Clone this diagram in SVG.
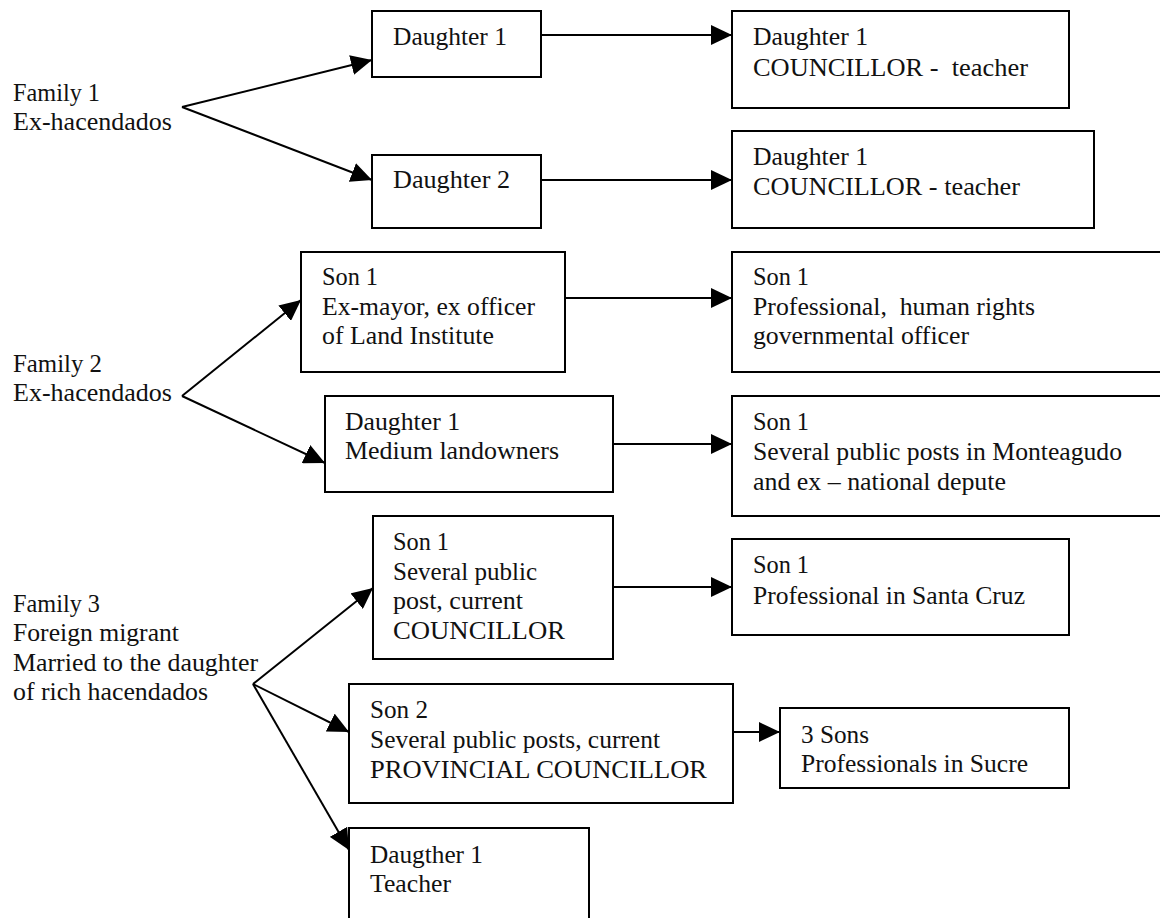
<svg xmlns="http://www.w3.org/2000/svg" width="1160" height="918" viewBox="0 0 1160 918">
  <defs>
    <marker id="arrow" markerUnits="userSpaceOnUse" markerWidth="22" markerHeight="20" refX="21" refY="10" orient="auto">
      <path d="M0,0 L21,10 L0,20 Z" fill="#000"/>
    </marker>
    <style>
      .box { fill: #fff; stroke: #000; stroke-width: 2; }
      .edge { fill: none; stroke: #000; stroke-width: 2; marker-end: url(#arrow); }
      text { font-family: 'Liberation Serif', 'DejaVu Serif', serif; font-size: 25px; fill: #111; }
    </style>
  </defs>
  <rect width="1160" height="918" fill="#fff"/>

  <!-- connectors -->
  <g id="connectors">
    <line class="edge" x1="182" y1="107" x2="372" y2="60"/>
    <line class="edge" x1="182" y1="107" x2="372" y2="180"/>
    <line class="edge" x1="541" y1="35" x2="732" y2="35"/>
    <line class="edge" x1="541" y1="180" x2="732" y2="180"/>
    <line class="edge" x1="182" y1="396" x2="301" y2="300"/>
    <line class="edge" x1="182" y1="396" x2="325" y2="463"/>
    <line class="edge" x1="565" y1="298" x2="732" y2="298"/>
    <line class="edge" x1="613" y1="444" x2="732" y2="444"/>
    <line class="edge" x1="253" y1="684" x2="373" y2="588"/>
    <line class="edge" x1="253" y1="684" x2="349" y2="732"/>
    <line class="edge" x1="253" y1="684" x2="349" y2="850"/>
    <line class="edge" x1="613" y1="587" x2="732" y2="587"/>
    <line class="edge" x1="733" y1="732" x2="780" y2="732"/>
  </g>

  <g font-family="'Liberation Serif', 'DejaVu Serif', serif" font-size="25" lengthAdjust="spacingAndGlyphs">
  <!-- family labels -->
  <g id="family1">
    <text x="13" y="101" textLength="87" lengthAdjust="spacingAndGlyphs">Family 1</text>
    <text x="13" y="130" textLength="159" lengthAdjust="spacingAndGlyphs">Ex-hacendados</text>
  </g>
  <g id="family2">
    <text x="13" y="372" textLength="89" lengthAdjust="spacingAndGlyphs">Family 2</text>
    <text x="13" y="401" textLength="159" lengthAdjust="spacingAndGlyphs">Ex-hacendados</text>
  </g>
  <g id="family3">
    <text x="13" y="612" textLength="87" lengthAdjust="spacingAndGlyphs">Family 3</text>
    <text x="13" y="641" textLength="166" lengthAdjust="spacingAndGlyphs">Foreign migrant</text>
    <text x="13" y="671" textLength="245" lengthAdjust="spacingAndGlyphs">Married to the daughter</text>
    <text x="13" y="700" textLength="195" lengthAdjust="spacingAndGlyphs">of rich hacendados</text>
  </g>

  <!-- family 1 descendants -->
  <g id="f1-daughter1">
    <rect class="box" x="372" y="11" width="169" height="66"/>
    <text x="393" y="45" textLength="114" lengthAdjust="spacingAndGlyphs">Daughter 1</text>
  </g>
  <g id="f1-daughter2">
    <rect class="box" x="372" y="155" width="169" height="73"/>
    <text x="393" y="188" textLength="117" lengthAdjust="spacingAndGlyphs">Daughter 2</text>
  </g>
  <g id="f1-grandchild1">
    <rect class="box" x="732" y="11" width="337" height="97"/>
    <text x="753" y="45" textLength="115" lengthAdjust="spacingAndGlyphs">Daughter 1</text>
    <text x="753" y="76" textLength="275" lengthAdjust="spacingAndGlyphs" xml:space="preserve">COUNCILLOR -  teacher</text>
  </g>
  <g id="f1-grandchild2">
    <rect class="box" x="732" y="131" width="362" height="97"/>
    <text x="753" y="165" textLength="115" lengthAdjust="spacingAndGlyphs">Daughter 1</text>
    <text x="753" y="195" textLength="267" lengthAdjust="spacingAndGlyphs">COUNCILLOR - teacher</text>
  </g>

  <!-- family 2 descendants -->
  <g id="f2-son1">
    <rect class="box" x="301" y="252" width="264" height="120"/>
    <text x="322" y="285" textLength="56" lengthAdjust="spacingAndGlyphs">Son 1</text>
    <text x="322" y="315" textLength="213" lengthAdjust="spacingAndGlyphs">Ex-mayor, ex officer</text>
    <text x="322" y="344" textLength="172" lengthAdjust="spacingAndGlyphs">of Land Institute</text>
  </g>
  <g id="f2-daughter1">
    <rect class="box" x="325" y="396" width="288" height="96"/>
    <text x="345" y="430" textLength="115" lengthAdjust="spacingAndGlyphs">Daughter 1</text>
    <text x="345" y="459" textLength="214" lengthAdjust="spacingAndGlyphs">Medium landowners</text>
  </g>
  <g id="f2-grandchild1">
    <rect class="box" x="732" y="252" width="440" height="120"/>
    <text x="753" y="285" textLength="56" lengthAdjust="spacingAndGlyphs">Son 1</text>
    <text x="753" y="315" textLength="282" lengthAdjust="spacingAndGlyphs" xml:space="preserve">Professional,  human rights</text>
    <text x="753" y="344" textLength="216" lengthAdjust="spacingAndGlyphs">governmental officer</text>
  </g>
  <g id="f2-grandchild2">
    <rect class="box" x="732" y="396" width="440" height="120"/>
    <text x="753" y="430" textLength="56" lengthAdjust="spacingAndGlyphs">Son 1</text>
    <text x="753" y="460" textLength="369" lengthAdjust="spacingAndGlyphs">Several public posts in Monteagudo</text>
    <text x="753" y="490" textLength="253" lengthAdjust="spacingAndGlyphs">and ex – national depute</text>
  </g>

  <!-- family 3 descendants -->
  <g id="f3-son1">
    <rect class="box" x="373" y="516" width="240" height="143"/>
    <text x="393" y="550" textLength="56" lengthAdjust="spacingAndGlyphs">Son 1</text>
    <text x="393" y="580" textLength="144" lengthAdjust="spacingAndGlyphs">Several public</text>
    <text x="393" y="609" textLength="130" lengthAdjust="spacingAndGlyphs">post, current</text>
    <text x="393" y="639" textLength="172" lengthAdjust="spacingAndGlyphs">COUNCILLOR</text>
  </g>
  <g id="f3-son2">
    <rect class="box" x="349" y="684" width="384" height="119"/>
    <text x="370" y="718" textLength="58" lengthAdjust="spacingAndGlyphs">Son 2</text>
    <text x="370" y="748" textLength="290" lengthAdjust="spacingAndGlyphs">Several public posts, current</text>
    <text x="370" y="778" textLength="337" lengthAdjust="spacingAndGlyphs">PROVINCIAL COUNCILLOR</text>
  </g>
  <g id="f3-daughter1">
    <rect class="box" x="349" y="828" width="240" height="100"/>
    <text x="370" y="863" textLength="113" lengthAdjust="spacingAndGlyphs">Daugther 1</text>
    <text x="370" y="892" textLength="81" lengthAdjust="spacingAndGlyphs">Teacher</text>
  </g>
  <g id="f3-grandchild1">
    <rect class="box" x="732" y="539" width="337" height="96"/>
    <text x="753" y="573" textLength="56" lengthAdjust="spacingAndGlyphs">Son 1</text>
    <text x="753" y="604" textLength="272" lengthAdjust="spacingAndGlyphs">Professional in Santa Cruz</text>
  </g>
  <g id="f3-grandchild2">
    <rect class="box" x="780" y="708" width="289" height="80"/>
    <text x="801" y="743" textLength="68" lengthAdjust="spacingAndGlyphs">3 Sons</text>
    <text x="801" y="772" textLength="227" lengthAdjust="spacingAndGlyphs">Professionals in Sucre</text>
  </g>
  </g>
</svg>
